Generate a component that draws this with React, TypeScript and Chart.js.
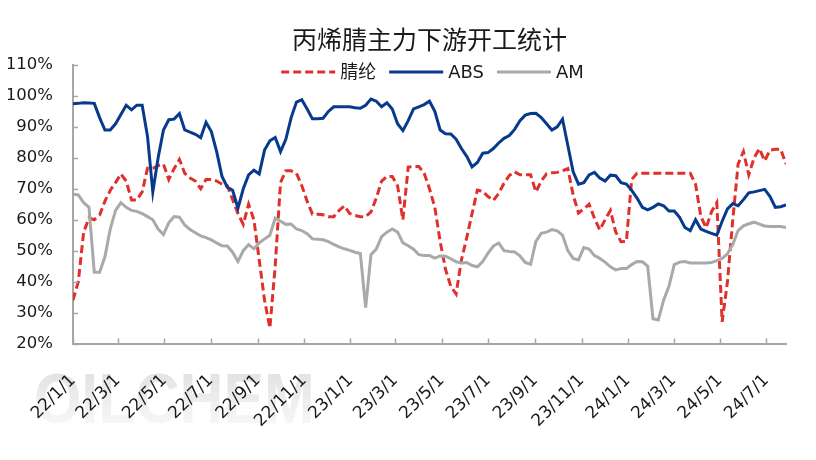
import React, { useEffect, useRef } from 'react';
import { Chart, registerables } from 'chart.js';

Chart.register(...registerables);

// ---------- data ----------
const chartTitle = '丙烯腈主力下游开工统计';
const seriesNames = ['腈纶', 'ABS', 'AM'];
const startDate = '2022-01-01'; // first weekly observation
const tickLabels = [
  '22/1/1', '22/3/1', '22/5/1', '22/7/1', '22/9/1', '22/11/1',
  '23/1/1', '23/3/1', '23/5/1', '23/7/1', '23/9/1', '23/11/1',
  '24/1/1', '24/3/1', '24/5/1', '24/7/1',
];

// weekly operating rates (%)
const acrylicFiber = [
  34, 40, 56, 60.5, 60, 61.5, 66, 69.5, 72, 74.8,
  72.5, 66.4, 66.4, 69, 76.6, 76.6, 77.5, 78, 73, 76.5,
  79.5, 75, 73.5, 72.5, 70, 73, 73, 72.5, 71.5, 71,
  66.5, 62, 58.5, 65, 60, 47, 34, 25, 45, 72,
  75.8, 75.8, 75, 71, 66, 61.8, 61.8, 61.6, 61, 61,
  63, 64.5, 62, 61.4, 61, 61, 62.5, 67, 72.5, 74,
  74, 71, 60, 77, 77.2, 77.2, 75, 70, 64, 53,
  44, 38.5, 36, 47, 54.2, 62, 69.6, 69.2, 67.5, 66.2,
  68.5, 71.8, 74.3, 75.5, 74.5, 74.5, 74.5, 69, 72.5, 74.8,
  75.2, 75.3, 75.8, 76.5, 68, 62.2, 63.5, 65, 60.5, 56.7,
  60, 63, 56, 52.9, 53, 73, 75, 75, 75, 75,
  75, 75, 75, 75, 75, 75, 75, 71.5, 61, 57.4,
  62.6, 65.5, 27, 40, 60, 78, 82, 74.5, 80, 83,
  79, 82.5, 82.8, 82.8, 78,
];

const absRate = [
  97.5, 97.6, 97.8, 97.7, 97.6, 93, 89, 89, 91, 94,
  97, 95.5, 97, 97, 87, 69, 80, 89, 92.3, 92.5,
  94.3, 89, 88.3, 87.6, 86.5, 91.5, 88.5, 82, 74, 70.5,
  69.5, 63.7, 70, 74.5, 76, 74.8, 82.5, 85.5, 86.6, 82,
  86, 93, 98, 98.8, 95.8, 92.6, 92.6, 92.8, 95, 96.5,
  96.5, 96.5, 96.5, 96.2, 96, 97, 99, 98.3, 96.5, 97.8,
  95.8, 91, 88.8, 92, 95.8, 96.5, 97.2, 98.3, 95, 89,
  87.8, 87.7, 86, 83, 80.5, 77.1, 78.5, 81.5, 81.7, 83,
  84.8, 86.3, 87.2, 89.2, 92, 93.8, 94.3, 94.4, 93, 91,
  89, 90, 92.5, 84, 75.5, 71.5, 72, 74.5, 75.3, 73.5,
  72.5, 74.4, 74.2, 72, 71.5, 69.5, 67, 64, 63.2, 64,
  65.1, 64.5, 62.8, 62.8, 60.8, 57.5, 56.5, 60, 57, 56.2,
  55.6, 55, 59.5, 63.5, 65.2, 64.5, 66.5, 68.7, 69, 69.4,
  69.8, 67.5, 64, 64.2, 64.8,
];

const amRate = [
  68.2, 68, 65.5, 64, 43, 43, 48, 57, 63, 65.5,
  64, 63, 62.7, 62, 61, 60, 57, 55.2, 59, 61,
  60.8, 58.3, 56.8, 55.8, 54.8, 54.2, 53.5, 52.5, 51.6, 51.5,
  49.5, 46.5, 50, 52, 50.6, 52.5, 53.8, 55, 60.5, 59.5,
  58.5, 58.6, 57, 56.5, 55.5, 53.8, 53.7, 53.5, 52.9, 52,
  51.2, 50.6, 50.1, 49.5, 49.1, 31.6, 48.7, 50.5, 54.5, 56,
  57, 56, 52.5, 51.6, 50.5, 48.7, 48.4, 48.4, 47.6, 48.3,
  48.2, 47.4, 46.4, 46, 46.2, 45.2, 44.8, 46.5, 49.2, 51.5,
  52.5, 50, 49.7, 49.6, 48.3, 46.2, 45.6, 53, 55.6, 56,
  56.8, 56.4, 55, 50, 47.5, 47, 51, 50.5, 48.4, 47.5,
  46.3, 44.8, 43.8, 44.2, 44.2, 45.5, 46.5, 46.4, 45, 28,
  27.6, 34, 38.5, 45.5, 46.3, 46.5, 46, 46, 46, 46,
  46.2, 46.8, 47.5, 49, 52, 56.5, 58, 58.7, 59.2, 58.6,
  58, 57.8, 57.8, 57.8, 57.5,
];

const yMin = 20;
const yMax = 110;
const yStep = 10;

// ---------- helpers ----------
const DAY = 86400000;
const startMs = Date.parse(startDate + 'T00:00:00Z');
const dayOfLabel = (s: string) => {
  const [y, m, d] = s.split('/').map(Number);
  return Math.round((Date.UTC(2000 + y, m - 1, d) - startMs) / DAY);
};
const weekDays = absRate.map((_, i) => i * 7);
const tickDays = tickLabels.map(dayOfLabel);
const toPoints = (vals: number[]) => vals.map((v, i) => ({ x: weekDays[i], y: v }));

const AXIS_COLOR = '#A6A6A6';
const TEXT_COLOR = '#1A1A1A';
const LATIN = '"DejaVu Sans", "Noto Sans CJK SC", sans-serif';
const CJK = '"Noto Sans CJK SC", "DejaVu Sans", sans-serif';

const watermarkPlugin = {
  id: 'watermark',
  beforeDraw(chart: any) {
    const ctx = chart.ctx;
    ctx.save();
    ctx.translate(34, 423);
    ctx.scale(0.87, 1);
    const g = ctx.createLinearGradient(0, -52, 0, 2);
    g.addColorStop(0, '#E2E2E2');
    g.addColorStop(1, '#F7F7F7');
    ctx.fillStyle = g;
    ctx.font = 'bold 70px "Liberation Sans", Arial, sans-serif';
    ctx.textBaseline = 'alphabetic';
    ctx.textAlign = 'left';
    ctx.fillText('OILCHEM', 0, 0);
    ctx.restore();
  },
};

const innerTicksPlugin = {
  id: 'innerTicks',
  afterDraw(chart: any) {
    const { ctx, chartArea, scales } = chart;
    ctx.save();
    ctx.strokeStyle = AXIS_COLOR;
    ctx.lineWidth = 1.5;
    ctx.beginPath();
    scales.y.ticks.forEach((t: any) => {
      const py = Math.round(scales.y.getPixelForValue(t.value)) + 0.5;
      ctx.moveTo(chartArea.left, py);
      ctx.lineTo(chartArea.left + 5, py);
    });
    scales.x.ticks.forEach((t: any) => {
      const px = Math.round(scales.x.getPixelForValue(t.value)) + 0.5;
      ctx.moveTo(px, chartArea.bottom);
      ctx.lineTo(px, chartArea.bottom - 5);
    });
    ctx.stroke();
    ctx.restore();
  },
};

const lineLegendPlugin = {
  id: 'lineLegend',
  afterDraw(chart: any) {
    const ctx = chart.ctx;
    const items = chart.data.datasets.map((ds: any) => ({
      label: ds.label,
      color: ds.borderColor,
      dash: ds.borderDash || [],
    }));
    ctx.save();
    ctx.font = '18px ' + LATIN;
    const lineLen = 54;
    const gapText = 5;
    const gapItem = 13;
    const widths = items.map((it: any) => ctx.measureText(it.label).width);
    const total =
      widths.reduce((a: number, w: number) => a + lineLen + gapText + w, 0) +
      gapItem * (items.length - 1);
    const cx = (chart.chartArea.left + chart.chartArea.right) / 2 + 3;
    const y = 72;
    let x = cx - total / 2;
    items.forEach((it: any, i: number) => {
      ctx.beginPath();
      ctx.setLineDash(it.dash);
      ctx.strokeStyle = it.color;
      ctx.lineWidth = 3;
      ctx.moveTo(x, y);
      ctx.lineTo(x + lineLen, y);
      ctx.stroke();
      ctx.setLineDash([]);
      ctx.fillStyle = TEXT_COLOR;
      ctx.textBaseline = 'middle';
      ctx.textAlign = 'left';
      ctx.fillText(it.label, x + lineLen + gapText, y + 1);
      x += lineLen + gapText + widths[i] + gapItem;
    });
    ctx.restore();
  },
};

export default function App() {
  const ref = useRef<HTMLCanvasElement>(null);

  useEffect(() => {
    document.body.style.margin = '0';
    const canvas = ref.current;
    if (!canvas) return;
    const chart = new Chart(canvas, {
      type: 'line',
      data: {
        datasets: [
          {
            label: seriesNames[0],
            data: toPoints(acrylicFiber),
            borderColor: '#E0302C',
            borderWidth: 3,
            borderDash: [8, 4],
            pointRadius: 0,
            tension: 0,
            fill: false,
            order: 3,
          },
          {
            label: seriesNames[1],
            data: toPoints(absRate),
            borderColor: '#073A8C',
            borderWidth: 3,
            pointRadius: 0,
            tension: 0,
            fill: false,
            order: 2,
          },
          {
            label: seriesNames[2],
            data: toPoints(amRate),
            borderColor: '#A9A9A9',
            borderWidth: 3,
            pointRadius: 0,
            tension: 0,
            fill: false,
            order: 1,
          },
        ],
      },
      options: {
        responsive: false,
        animation: false,
        devicePixelRatio: 1,
        layout: { padding: { left: 8, right: 30, top: 0, bottom: 16.5 } },
        plugins: {
          legend: { display: false },
          tooltip: { enabled: false },
          title: {
            display: true,
            text: chartTitle,
            fullSize: false,
            color: TEXT_COLOR,
            font: { family: CJK, size: 25, weight: 'normal' },
            padding: { top: 24, bottom: 11 },
          },
        },
        scales: {
          x: {
            type: 'linear',
            min: 0,
            max: weekDays[weekDays.length - 1],
            afterBuildTicks: (axis: any) => {
              axis.ticks = tickDays.map((d) => ({ value: d }));
            },
            afterFit: (axis: any) => {
              axis.height = 100;
            },
            grid: { display: false, drawTicks: false },
            border: { display: true, color: AXIS_COLOR, width: 2 },
            ticks: {
              autoSkip: false,
              minRotation: 45,
              maxRotation: 45,
              padding: 30,
              color: TEXT_COLOR,
              font: { family: LATIN, size: 17, lineHeight: 0.7 },
              callback: (_v: any, i: number) => tickLabels[i],
            },
          },
          y: {
            min: yMin,
            max: yMax,
            afterFit: (axis: any) => {
              axis.width = 65;
            },
            grid: { display: false, drawTicks: false },
            border: { display: true, color: AXIS_COLOR, width: 2 },
            ticks: {
              stepSize: yStep,
              padding: 20,
              color: TEXT_COLOR,
              font: { family: LATIN, size: 16.5 },
              callback: (v: any) => v + '%',
            },
          },
        },
      },
      plugins: [watermarkPlugin, innerTicksPlugin, lineLegendPlugin],
    } as any);
    return () => chart.destroy();
  }, []);

  return (
    <div style={{ width: 816, height: 460, background: '#fff' }}>
      <canvas ref={ref} width={816} height={460} style={{ display: 'block' }} />
    </div>
  );
}
